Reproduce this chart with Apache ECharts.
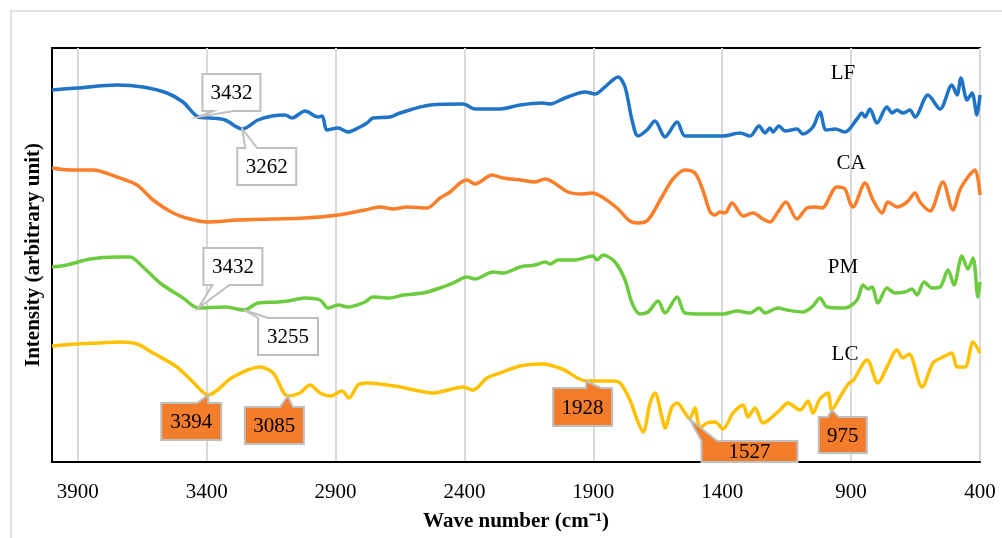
<!DOCTYPE html>
<html>
<head>
<meta charset="utf-8">
<script src="https://cdn.jsdelivr.net/npm/echarts@6/dist/echarts.min.js"></script>
<style>
  html, body { margin: 0; padding: 0; background: #fff; }
  #chart { width: 1002px; height: 538px; }
</style>
</head>
<body>
<div id="chart"></div>
<script>
// FTIR spectra, [wave number (cm-1), intensity (arbitrary unit, stacked offsets)]
const lf = [[4000,372],[3903,374],[3748,377],[3647,375],[3554,369],[3492,360],[3432,345],[3387,344],[3329,342],[3262,333],[3201,342],[3146,346],[3096,347],[3069,344],[3018,351],[2968,345],[2952,346],[2933,332],[2890,334],[2852,330],[2813,334],[2778,339],[2755,344],[2689,345],[2650,349],[2533,357],[2405,358],[2359,353],[2262,353],[2184,357],[2099,359],[2068,358],[2010,364],[1932,370],[1893,368],[1855,375],[1804,385],[1777,375],[1750,342],[1727,326],[1692,332],[1661,341],[1622,325],[1575,340],[1544,326],[1474,326],[1397,326],[1331,329],[1292,326],[1257,336],[1234,329],[1215,334],[1203,330],[1180,336],[1156,331],[1110,333],[1087,328],[1048,335],[1021,350],[997,332],[962,333],[924,330],[877,343],[858,349],[846,345],[827,353],[800,339],[761,355],[741,349],[722,352],[699,349],[672,352],[652,345],[602,367],[555,353],[509,377],[489,367],[474,384],[450,362],[431,369],[412,347],[400,367]];

const ca = [[4000,294],[3930,292],[3841,292],[3748,285],[3670,277],[3608,262],[3530,249],[3464,243],[3398,240],[3278,242],[3146,243],[3018,244],[2890,247],[2786,252],[2727,255],[2677,253],[2623,255],[2545,254],[2495,264],[2456,270],[2417,279],[2390,282],[2359,278],[2340,280],[2293,287],[2250,284],[2184,282],[2126,280],[2087,283],[1998,270],[1944,268],[1905,269],[1866,265],[1808,254],[1758,241],[1727,239],[1688,242],[1634,265],[1591,283],[1544,292],[1506,289],[1478,274],[1447,250],[1428,247],[1409,250],[1389,249],[1362,259],[1319,246],[1281,249],[1242,243],[1215,240],[1184,250],[1153,260],[1110,243],[1071,254],[1040,255],[1013,254],[955,275],[924,273],[904,259],[893,255],[846,279],[815,262],[780,249],[757,260],[722,255],[683,260],[652,269],[633,260],[594,251],[544,280],[505,252],[478,272],[447,285],[419,292],[400,267]];

const pm = [[4000,195],[3942,197],[3852,203],[3748,205],[3697,205],[3647,195],[3581,179],[3492,164],[3432,154],[3329,155],[3255,152],[3201,159],[3123,160],[3084,161],[3018,164],[2960,162],[2929,154],[2890,157],[2852,155],[2817,157],[2786,160],[2755,165],[2689,164],[2638,167],[2561,169],[2495,174],[2444,179],[2390,185],[2359,183],[2289,190],[2250,189],[2184,195],[2126,197],[2087,200],[2068,198],[2037,202],[1971,202],[1901,206],[1886,202],[1862,207],[1816,200],[1777,182],[1750,159],[1719,148],[1688,150],[1649,161],[1622,149],[1575,165],[1544,149],[1474,148],[1397,148],[1343,151],[1292,149],[1257,154],[1234,149],[1184,154],[1149,152],[1087,150],[1048,156],[1021,164],[993,155],[924,154],[877,162],[854,177],[834,173],[819,175],[796,159],[761,174],[730,169],[691,170],[664,173],[644,167],[617,180],[586,174],[555,175],[524,192],[501,177],[470,206],[447,193],[427,204],[408,165],[400,180]];

const lc = [[4000,116],[3903,118],[3814,119],[3736,120],[3670,118],[3608,109],[3515,95],[3453,80],[3394,67],[3298,85],[3193,95],[3142,89],[3085,66],[3038,69],[2999,77],[2960,69],[2921,66],[2875,71],[2848,64],[2813,77],[2778,79],[2650,75],[2522,69],[2405,75],[2367,72],[2312,84],[2262,89],[2184,96],[2099,98],[2021,93],[1928,81],[1893,81],[1827,81],[1796,79],[1758,62],[1730,42],[1707,30],[1680,59],[1661,69],[1634,45],[1622,34],[1595,55],[1575,59],[1544,49],[1527,43],[1506,54],[1486,34],[1459,39],[1428,40],[1397,33],[1358,49],[1319,57],[1300,45],[1273,54],[1242,39],[1215,43],[1176,52],[1145,59],[1098,52],[1067,61],[1048,49],[1021,63],[990,69],[975,52],[943,65],[908,79],[893,81],[838,102],[796,79],[761,95],[722,112],[699,104],[675,108],[625,75],[582,99],[544,105],[509,109],[489,95],[458,95],[427,120],[400,109]];

const seriesNames = ['LF', 'CA', 'PM', 'LC'];
const xTicks = [3900, 3400, 2900, 2400, 1900, 1400, 900, 400];

// marked band positions (cm-1) per spectrum
const peaksLF = [3432, 3262];
const peaksPM = [3432, 3255];
const peaksLC = [3394, 3085, 1928, 1527, 975];

const FONT = 'Liberation Serif';
const colors = { LF: '#1F74C8', CA: '#FB7E2B', PM: '#6DCB3F', LC: '#FFC000' };
const spectra = { LF: lf, CA: ca, PM: pm, LC: lc };

// callout box geometry relative to the marked point (px)
const calloutStyle = [
  { dx: 4,   dy: -43, bw: 58, bh: 37, edge: 'bottom', b1: 11, b2: 31, fill: '#FFFFFF' },
  { dx: -5,  dy: 19,  bw: 59, bh: 37, edge: 'top',    b1: 8,  b2: 20, fill: '#FFFFFF' },
  { dx: 5,   dy: -60, bw: 59, bh: 37, edge: 'bottom', b1: 9,  b2: 26, fill: '#FFFFFF' },
  { dx: 14,  dy: 8,   bw: 60, bh: 37, edge: 'top',    b1: 0,  b2: 10, fill: '#FFFFFF' },
  { dx: -47, dy: 8,   bw: 60, bh: 37, edge: 'top',    b1: 36, b2: 47, fill: '#F47D2C' },
  { dx: -43, dy: 11,  bw: 59, bh: 37, edge: 'top',    b1: 35, b2: 48, fill: '#F47D2C' },
  { dx: -33, dy: 7,   bw: 59, bh: 38, edge: 'top',    b1: 33, b2: 48, fill: '#F47D2C' },
  { dx: 12,  dy: 22,  bw: 96, bh: 21, edge: 'top',    b1: 0,  b2: 16, fill: '#F47D2C' },
  { dx: -13, dy: 7,   bw: 48, bh: 36, edge: 'top',    b1: 9,  b2: 20, fill: '#F47D2C' }
];

function pointAt(data, w) {
  const p = data.find(d => d[0] === w);
  return p ? p[1] : null;
}

const calloutData = [];
[['LF', peaksLF], ['PM', peaksPM], ['LC', peaksLC]].forEach(([name, list]) => {
  list.forEach(w => calloutData.push([w, pointAt(spectra[name], w)]));
});

function renderCallout(params, api) {
  const s = calloutStyle[params.dataIndex];
  const w = api.value(0);
  const p = api.coord([w, api.value(1)]);
  const L = p[0] + s.dx, T = p[1] + s.dy, R = L + s.bw, B = T + s.bh;
  let pts;
  if (s.edge === 'top') {
    pts = [[L, T], [L + s.b1, T], [p[0], p[1]], [L + s.b2, T], [R, T], [R, B], [L, B]];
  } else {
    pts = [[L, T], [R, T], [R, B], [L + s.b2, B], [p[0], p[1]], [L + s.b1, B], [L, B]];
  }
  return {
    type: 'group',
    children: [
      { type: 'polygon', shape: { points: pts },
        style: { fill: s.fill, stroke: '#BFBFBF', lineWidth: 2, lineJoin: 'miter' } },
      { type: 'text',
        style: { text: String(w), x: (L + R) / 2, y: (T + B) / 2 + 1, align: 'center',
                 verticalAlign: 'middle', fill: '#000', font: '21px "' + FONT + '"' } }
    ]
  };
}

const chart = echarts.init(document.getElementById('chart'), null, { renderer: 'canvas' });

const lineSeries = seriesNames.map(name => ({
  name: name,
  type: 'line',
  data: spectra[name],
  showSymbol: false,
  symbol: 'none',
  smooth: 0.3,
  lineStyle: { color: colors[name], width: 3.5 },
  itemStyle: { color: colors[name] },
  z: 3
}));

const nameLabels = [
  { text: 'LF', x: 843, y: 73 },
  { text: 'CA', x: 851, y: 163 },
  { text: 'PM', x: 843, y: 267 },
  { text: 'LC', x: 845, y: 354 }
];

chart.setOption({
  animation: false,
  backgroundColor: '#fff',
  textStyle: { fontFamily: FONT },
  grid: { left: 52, right: 22, top: 48, bottom: 76, show: true, borderColor: '#000', borderWidth: 2 },
  xAxis: {
    type: 'value',
    inverse: true,
    min: 400,
    max: 4000,
    interval: 500,
    name: 'Wave number (cm⁻¹)',
    nameLocation: 'middle',
    nameGap: 49,
    nameTextStyle: { fontFamily: FONT, fontSize: 21, fontWeight: 'bold', color: '#000' },
    axisLine: { show: true, lineStyle: { color: '#000', width: 2 } },
    axisTick: { show: false },
    axisLabel: {
      margin: 20,
      fontFamily: FONT, fontSize: 21, color: '#000',
      formatter: v => (xTicks.indexOf(v) >= 0 ? String(v) : '')
    },
    splitLine: { show: true, lineStyle: { color: '#D9D9D9', width: 2 } }
  },
  yAxis: {
    type: 'value',
    min: 0,
    max: 414,
    name: 'Intensity (arbitrary unit)',
    nameLocation: 'middle',
    nameRotate: 90,
    nameGap: 8,
    nameTextStyle: { fontFamily: FONT, fontSize: 21, fontWeight: 'bold', color: '#000' },
    axisLine: { show: true, lineStyle: { color: '#000', width: 2 } },
    axisTick: { show: false },
    axisLabel: { show: false },
    splitLine: { show: false }
  },
  series: lineSeries.concat([{
    type: 'custom',
    renderItem: renderCallout,
    data: calloutData,
    clip: false,
    z: 5,
    silent: true
  }]),
  graphic: [
    { type: 'rect', z: -10, silent: true,
      shape: { x: 11, y: 11, width: 1100, height: 600 },
      style: { fill: 'none', stroke: '#D9D9D9', lineWidth: 1.5 } }
  ].concat(nameLabels.map(l => ({
    type: 'text', z: 10, silent: true,
    style: { text: l.text, x: l.x, y: l.y, align: 'center', verticalAlign: 'middle',
             fill: '#000', font: '21px "' + FONT + '"' }
  })))
});
</script>
</body>
</html>
